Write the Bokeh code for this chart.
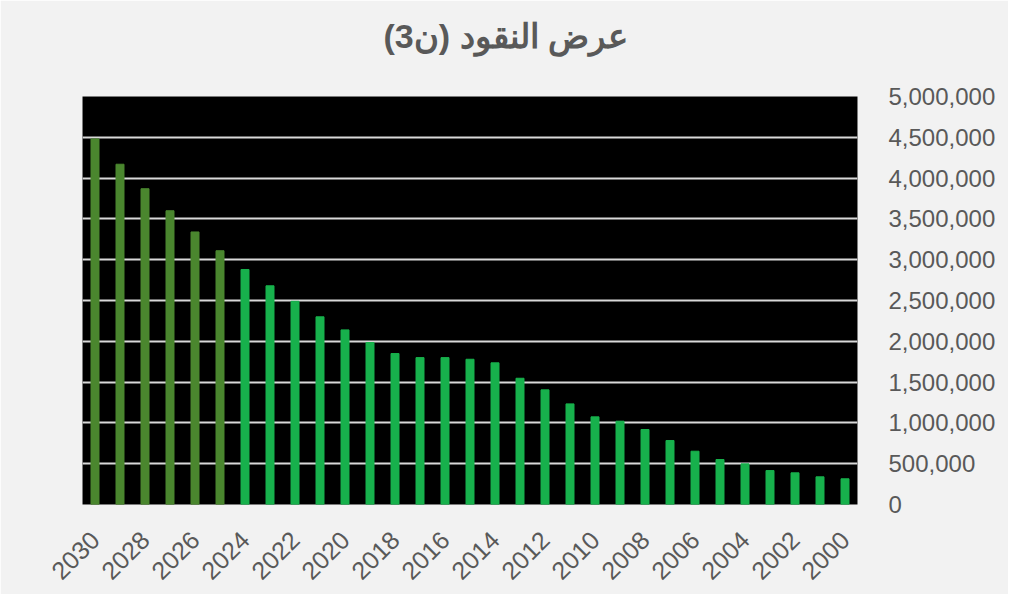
from bokeh.plotting import figure
from bokeh.models import Range1d, FixedTicker, LinearAxis, NumeralTickFormatter, Title, ColumnDataSource, Grid
from bokeh.embed import file_html
from bokeh.resources import INLINE
import math

title_text = "عرض النقود (ن3)"
years = list(range(2030, 1999, -1))
values = [4480000, 4170000, 3870000, 3600000, 3340000, 3110000,
          2880000, 2680000, 2490000, 2300000, 2140000, 1985000,
          1850000, 1800000, 1800000, 1780000, 1736000, 1547000,
          1405000, 1233000, 1074000, 1021000, 919000, 784000,
          653000, 551000, 498000, 416000, 388000, 339000, 315000]
forecast_color = "#4A862E"
actual_color = "#17B14C"
colors = [forecast_color if y >= 2025 else actual_color for y in years]
label_years = list(range(2030, 1999, -2))
y_ticks = list(range(0, 5000001, 500000))

src = ColumnDataSource(dict(x=years, top=values, color=colors))

W, H = 1008, 594
p = figure(width=W, height=H, output_backend="svg", toolbar_location=None,
           x_range=Range1d(2030.5, 1999.5), y_range=Range1d(0, 5000000),
           y_axis_location=None, min_border_left=82, min_border_right=151,
           min_border_top=96, min_border_bottom=90)
p.background_fill_color = "black"
p.border_fill_color = "#F2F2F2"
p.outline_line_color = None

p.vbar(x="x", top="top", width=0.32, color="color", source=src)

yax = LinearAxis(ticker=FixedTicker(ticks=y_ticks),
                 formatter=NumeralTickFormatter(format="0,0"))
yax.axis_line_color = None
yax.major_tick_line_color = None
yax.minor_tick_line_color = None
yax.major_label_standoff = 25
yax.major_label_text_font = "Liberation Sans"
yax.major_label_text_font_size = "24px"
yax.major_label_text_color = "#595959"
p.add_layout(yax, "right")

xax = p.xaxis[0]
xax.ticker = FixedTicker(ticks=label_years)
xax.axis_line_color = None
xax.major_tick_line_color = None
xax.minor_tick_line_color = None
xax.major_label_orientation = math.pi / 4
xax.major_label_standoff = 25
xax.major_label_text_font = "Liberation Sans"
xax.major_label_text_font_size = "25px"
xax.major_label_text_color = "#595959"

p.xgrid.grid_line_color = None
p.ygrid.grid_line_color = None
g = Grid(dimension=1, ticker=FixedTicker(ticks=y_ticks), grid_line_color="#D9D9D9", grid_line_width=2)
p.add_layout(g)

spacer = Title(text=" ", text_font_size="22px", standoff=10)
p.add_layout(spacer, "above")
t = Title(text=title_text, align="left", offset=301,
          text_font="Liberation Sans", text_font_style="bold",
          text_font_size="34px", text_color="#595959", standoff=10)
p.add_layout(t, "above")

open("out.html", "w").write(file_html(p, INLINE))
